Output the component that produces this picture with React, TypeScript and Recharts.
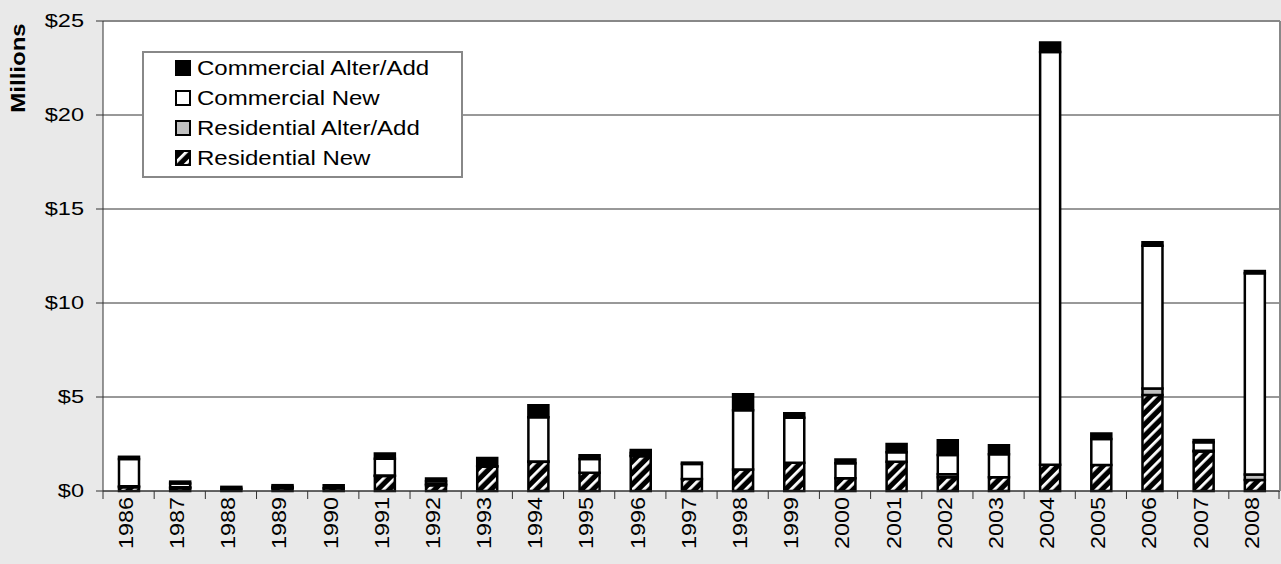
import React from 'react';
import { BarChart, Bar, XAxis, YAxis, CartesianGrid, Legend } from 'recharts';

// Values in millions of dollars
const years = [
  '1986', '1987', '1988', '1989', '1990', '1991', '1992', '1993', '1994', '1995', '1996', '1997',
  '1998', '1999', '2000', '2001', '2002', '2003', '2004', '2005', '2006', '2007', '2008',
];
const residentialNew = [0.2, 0.15, 0.12, 0.15, 0.15, 0.8, 0.3, 1.3, 1.55, 0.97, 1.85, 0.64, 1.15, 1.5, 0.68, 1.56, 0.73, 0.73, 1.4, 1.38, 5.1, 2.1, 0.58];
const residentialAlter = [0.05, 0.05, 0, 0.03, 0, 0.02, 0.07, 0.02, 0.02, 0, 0.05, 0, 0, 0, 0, 0, 0.16, 0, 0, 0, 0.35, 0.04, 0.3];
const commercialNew = [1.45, 0.2, 0, 0.05, 0, 0.9, 0.15, 0, 2.35, 0.73, 0.13, 0.8, 3.15, 2.4, 0.8, 0.5, 1.03, 1.22, 21.95, 1.38, 7.6, 0.45, 10.7];
const commercialAlter = [0.12, 0.1, 0.1, 0.08, 0.15, 0.28, 0.15, 0.44, 0.64, 0.2, 0.15, 0.07, 0.84, 0.23, 0.2, 0.44, 0.78, 0.48, 0.5, 0.3, 0.18, 0.12, 0.12];
const yTicks = [0, 5, 10, 15, 20, 25];
// legend reads top-down, opposite of the stacking order
const legendOrder = ['comAlt', 'comNew', 'resAlt', 'resNew'];

const data = years.map((year, i) => ({
  year,
  resNew: residentialNew[i],
  resAlt: residentialAlter[i],
  comNew: commercialNew[i],
  comAlt: commercialAlter[i],
}));

const FONT = '"Liberation Sans", Arial, sans-serif';

const fills: Record<string, string> = {
  resNew: 'url(#resHatch)',
  resAlt: '#c0c0c0',
  comNew: '#ffffff',
  comAlt: '#000000',
};

const YTick = ({ x, y, payload }: any) => (
  <text
    transform={`translate(${x},${y}) scale(1.24,1)`}
    textAnchor="end"
    dominantBaseline="central"
    fontSize={19}
    fontFamily={FONT}
    fill="#000"
  >
    {`$${payload.value}`}
  </text>
);

const XTick = ({ x, y, payload, index }: any) => {
  const half = payload.offset || 25.6;
  const last = index === years.length - 1;
  return (
    <g>
      <line x1={x - half} x2={x - half} y1={y} y2={y + 8} stroke="#333" />
      {last && <line x1={x + half - 1} x2={x + half - 1} y1={y} y2={y + 8} stroke="#333" />}
      <text
        transform={`translate(${x - 2},${y + 6}) rotate(-90) scale(1.2,1)`}
        textAnchor="end"
        dominantBaseline="central"
        fontSize={19.5}
        fontFamily={FONT}
        fill="#000"
      >
        {payload.value}
      </text>
    </g>
  );
};

const MillionsLabel = ({ viewBox }: any) => (
  <text
    transform={`translate(${viewBox.x + 18},${viewBox.y + 47}) rotate(-90) scale(1.2,1)`}
    textAnchor="middle"
    dominantBaseline="central"
    fontSize={20}
    fontWeight="bold"
    fontFamily={FONT}
    fill="#000"
  >
    Millions
  </text>
);

const LegendBox = ({ payload }: any) => {
  const items = legendOrder
    .map((key) => (payload || []).find((e: any) => e.dataKey === key))
    .filter(Boolean);
  return (
    <div
      style={{
        boxSizing: 'border-box',
        width: 321,
        height: 127,
        background: '#fff',
        border: '2px solid #888',
        paddingLeft: 31,
        fontFamily: FONT,
      }}
    >
      {items.map((e: any) => (
        <div key={e.value} style={{ height: 30, display: 'flex', alignItems: 'center' }}>
          <svg width={16} height={16} style={{ flex: 'none' }}>
            <rect x={1} y={1} width={14} height={14} fill={fills[e.dataKey]} stroke="#000" strokeWidth={2} />
          </svg>
          <span
            style={{
              marginLeft: 6,
              fontSize: 20,
              color: '#000',
              display: 'inline-block',
              transform: 'scaleX(1.2)',
              transformOrigin: 'left center',
              whiteSpace: 'nowrap',
              lineHeight: '30px',
            }}
          >
            {e.value}
          </span>
        </div>
      ))}
    </div>
  );
};

export default function App() {
  return (
    <div style={{ position: 'absolute', left: 0, top: 0, width: 1281, height: 564, background: '#e9e9e9' }}>
      <svg width={0} height={0} style={{ position: 'absolute' }}>
        <defs>
          <pattern id="resHatch" patternUnits="userSpaceOnUse" width={8} height={8} patternTransform="rotate(45)">
            <rect width={8} height={8} fill="#000" />
            <rect width={2.8} height={8} fill="#fff" />
          </pattern>
        </defs>
      </svg>
      <BarChart width={1281} height={564} data={data} margin={{ top: 20, right: 0, left: 0, bottom: 0 }}>
        <CartesianGrid vertical={false} stroke="#333" fill="#fff" />
        <XAxis
          dataKey="year"
          height={73}
          interval={0}
          tickSize={0}
          tickMargin={0}
          tickLine={false}
          tick={<XTick />}
          axisLine={{ stroke: '#333' }}
        />
        <XAxis
          xAxisId="top"
          orientation="top"
          dataKey="year"
          height={1}
          tick={false}
          tickLine={false}
          axisLine={{ stroke: '#888', strokeWidth: 2 }}
        />
        <YAxis
          width={103}
          domain={[0, 25]}
          ticks={yTicks}
          interval={0}
          tickSize={7}
          tickMargin={12}
          tick={<YTick />}
          tickLine={{ stroke: '#333' }}
          axisLine={{ stroke: '#333' }}
          label={{ content: <MillionsLabel /> }}
        />
        <YAxis
          yAxisId="right"
          orientation="right"
          width={1}
          domain={[0, 25]}
          tick={false}
          tickLine={false}
          axisLine={{ stroke: '#888', strokeWidth: 2 }}
        />
        <Legend
          layout="horizontal"
          verticalAlign="middle"
          align="center"
          wrapperStyle={{ left: 142, top: 51, width: 321, height: 127 }}
          content={<LegendBox />}
        />
        <Bar dataKey="resNew" name="Residential New" stackId="a" fill={fills.resNew} stroke="#000" strokeWidth={2.5} barSize={20} isAnimationActive={false} />
        <Bar dataKey="resAlt" name="Residential Alter/Add" stackId="a" fill={fills.resAlt} stroke="#000" strokeWidth={2.5} barSize={20} isAnimationActive={false} />
        <Bar dataKey="comNew" name="Commercial New" stackId="a" fill={fills.comNew} stroke="#000" strokeWidth={2.5} barSize={20} isAnimationActive={false} />
        <Bar dataKey="comAlt" name="Commercial Alter/Add" stackId="a" fill={fills.comAlt} stroke="#000" strokeWidth={2.5} barSize={20} isAnimationActive={false} />
      </BarChart>
    </div>
  );
}
